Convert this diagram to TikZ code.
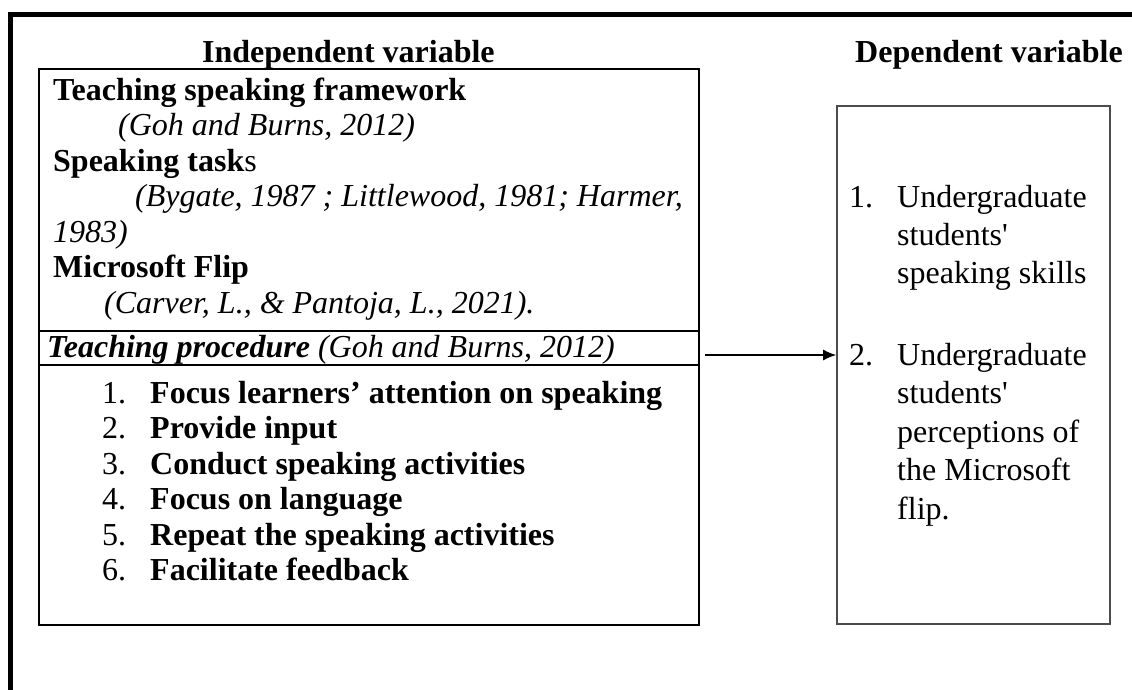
\documentclass[tikz,border=0pt]{standalone}
\usepackage{fontspec}
\setmainfont{Liberation Serif}
\usetikzlibrary{positioning,arrows.meta}
\tikzset{basic/.style={inner sep=0pt,anchor=base west,font=\fontsize{32}{37}\selectfont}}
\tikzset{heading/.style={basic,font=\fontsize{32}{37}\selectfont\bfseries}}
\tikzset{ivframe/.style={draw,line width=2.2pt,minimum width=660pt,minimum height=556pt,inner sep=0pt}}
\tikzset{dvframe/.style={draw=black!70,line width=1.6pt,minimum width=273pt,minimum height=518pt,inner sep=0pt}}
\tikzset{arrow/.style={draw,line width=1.5pt,-{Latex[length=13pt,width=11pt]}}}

\begin{document}
\begin{tikzpicture}[x=1pt,y=-1pt]
    \useasboundingbox (0,0) rectangle (1132,689);
    \clip (0,0) rectangle (1132,689);
    \draw[line width=5pt] (10,14) rectangle (1160,720);

    \node[heading] (indep) at (202,62) {Independent variable};
    \node[heading] (dep) at (855,62) {Dependent variable};

    \node[ivframe] (ivbox) at (369,347) {};
    \node[dvframe] (dvbox) at (973.5,365) {};
    \coordinate (div1) at (39,331);
    \coordinate (div2) at (39,365);
    \draw[line width=2.2pt] (div1) -- (div1 -| ivbox.east);
    \draw[line width=2.2pt] (div2) -- (div2 -| ivbox.east);

     \node[heading] (tsf) at (53,100) {Teaching speaking framework};
     \node[basic] (tsfref) at (118,135.5) {\itshape (Goh and Burns, 2012)};
     \node[basic] (tasks) at (53,171) {\textbf{Speaking task}s};
     \node[basic] (taskref) at (135,206.5) {\itshape (Bygate, 1987 ; Littlewood, 1981; Harmer,};
     \node[basic] (taskref2) at (53,242) {\itshape 1983)};
     \node[heading] (flip) at (53,277.5) {Microsoft Flip};
     \node[basic] (flipref) at (104,313) {\itshape (Carver, L., \& Pantoja, L., 2021).};
     \node[basic] (proc) at (47,357) {\textbf{\textit{Teaching procedure}} \textit{(Goh and Burns, 2012)}};

     \node[basic] (n1) at (102,403) {1.};
     \node[heading] (s1) at (150,403) {Focus learners’ attention on speaking};
     \node[basic] (n2) at (102,438.5) {2.};
     \node[heading] (s2) at (150,438.5) {Provide input};
     \node[basic] (n3) at (102,474) {3.};
     \node[heading] (s3) at (150,474) {Conduct speaking activities};
     \node[basic] (n4) at (102,509.5) {4.};
     \node[heading] (s4) at (150,509.5) {Focus on language};
     \node[basic] (n5) at (102,545) {5.};
     \node[heading] (s5) at (150,545) {Repeat the speaking activities};
     \node[basic] (n6) at (102,580.5) {6.};
     \node[heading] (s6) at (150,580.5) {Facilitate feedback};

     \node[basic] (d1) at (849,207) {1.};
     \node[basic] (d1a) at (897,207) {Undergraduate};
     \node[basic] (d1b) at (897,245) {students\textquotesingle};
     \node[basic] (d1c) at (897,283) {speaking skills};
     \node[basic] (d2) at (849,365) {2.};
     \node[basic] (d2a) at (897,365) {Undergraduate};
     \node[basic] (d2b) at (897,403.5) {students\textquotesingle};
     \node[basic] (d2c) at (897,442) {perceptions of};
     \node[basic] (d2d) at (897,480.5) {the Microsoft};
     \node[basic] (d2e) at (897,519) {flip.};

        \coordinate (arrstart) at (705,355);
        \path[arrow] (arrstart) -- (arrstart -| dvbox.west);
  \end{tikzpicture}
\end{document}
